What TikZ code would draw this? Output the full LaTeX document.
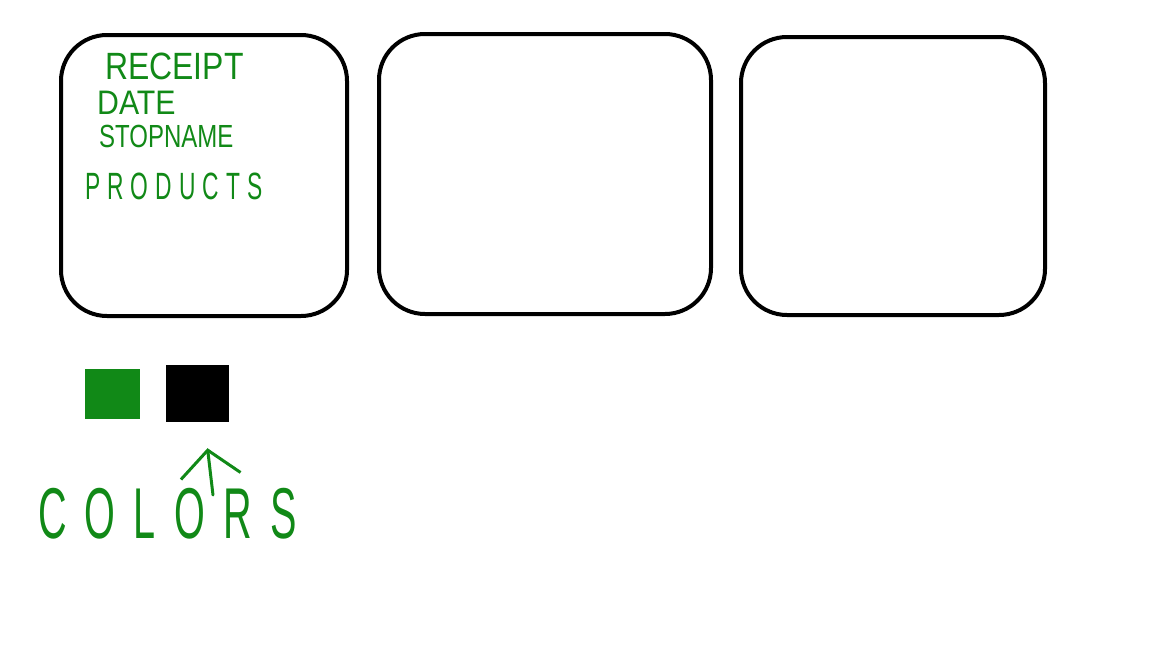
\documentclass[tikz,border=0pt]{standalone}
\usepackage{fontspec}
\setmainfont{Liberation Sans}
\usepackage{tikz}
\usetikzlibrary{arrows.meta}
\definecolor{marker}{RGB}{17,137,23}

\begin{document}
\begin{tikzpicture}[x=1pt, y=-1pt]
  \tikzstyle{screen} = [rectangle, draw=black, line width=4pt, rounded corners=46pt]
  \tikzstyle{swatch} = [rectangle, inner sep=0pt]
  \tikzstyle{scrawl} = [text=marker, inner sep=0pt, anchor=west]
  \tikzstyle{arrow} = [draw=marker, line width=3pt, line cap=round, -{Straight Barb[length=26pt, width=60pt, line width=3pt]}]
  \useasboundingbox (0,0) rectangle (1152,648);
  % the three screens
  \node (s1) [screen, minimum width=286pt, minimum height=281pt] at (204,175.5) {};
  \node (s2) [screen, minimum width=332pt, minimum height=280pt] at (545,174) {};
  \node (s3) [screen, minimum width=304pt, minimum height=278pt] at (893,176) {};
  % receipt fields
  \node (receipt) [scrawl, xscale=0.84] at (105,66) {\fontsize{38}{40}\selectfont RECEIPT};
  \node (date) [scrawl, xscale=0.89] at (97,103) {\fontsize{34}{36}\selectfont DATE};
  \node (shop) [scrawl, xscale=0.75] at (99,136) {\fontsize{32}{34}\selectfont STOPNAME};
  \node (products) [scrawl, xscale=0.6] at (85,186) {\fontsize{38}{40}\selectfont\addfontfeatures{LetterSpace=31}PRODUCTS};
  % colour swatches
  \node (green) [swatch, fill=marker, minimum width=55pt, minimum height=50pt] at (112.5,394) {};
  \node (black) [swatch, fill=black, minimum width=63pt, minimum height=57pt] at (197.5,393.5) {};
  \node (colors) [scrawl, xscale=0.55] at (38,514) {\fontsize{72}{74}\selectfont\addfontfeatures{LetterSpace=46}COLORS};
  \coordinate (foot) at (213,495);
  \draw [arrow] (foot) -- ([xshift=10pt, yshift=-26pt]black.south);
\end{tikzpicture}
\end{document}
